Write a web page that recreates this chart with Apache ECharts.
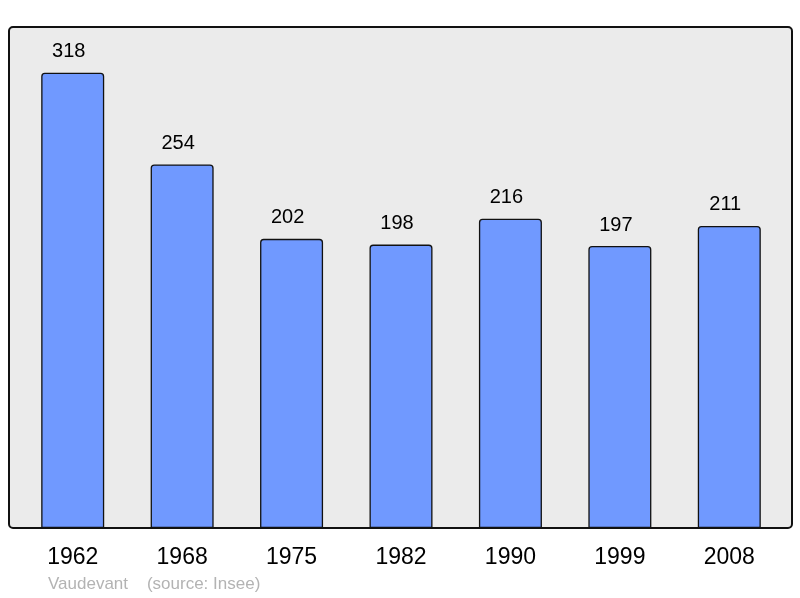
<!DOCTYPE html>
<html>
<head>
<meta charset="utf-8">
<script src="https://cdn.jsdelivr.net/npm/echarts@6/dist/echarts.min.js"></script>
<style>
  html, body { margin: 0; padding: 0; background: #fff; }
  #chart { width: 800px; height: 598px; }
</style>
</head>
<body>
<div id="chart"></div>
<script>
// Population by census year
const years = ['1962', '1968', '1975', '1982', '1990', '1999', '2008'];
const population = [318, 254, 202, 198, 216, 197, 211];

const chart = echarts.init(document.getElementById('chart'));

chart.setOption({
    animation: false,
    graphic: [
        {
            type: 'rect',
            z: -1,
            shape: { x: 9, y: 27, width: 783, height: 501, r: 4 },
            style: { fill: '#ebebeb', stroke: '#111', lineWidth: 2 }
        },
        {
            type: 'text',
            left: 48,
            top: 576,
            style: { text: 'Vaudevant    (source: Insee)', fill: '#b3b3b3', font: '17px "Liberation Sans", Arial, sans-serif' }
        }
    ],
    grid: { left: 18, right: 16, top: 27, bottom: 70 },
    xAxis: {
        type: 'category',
        data: years,
        axisLine: { show: false },
        axisTick: { show: false },
        axisLabel: { color: '#000', fontSize: 23, fontFamily: 'Liberation Sans', margin: 18 }
    },
    yAxis: {
        type: 'value',
        min: 0,
        max: 350,
        show: false,
        splitLine: { show: false }
    },
    series: [{
        type: 'bar',
        data: population,
        barWidth: 63,
        itemStyle: { color: '#7099ff', borderColor: '#111', borderWidth: 1.3, borderRadius: [3, 3, 0, 0] },
        label: {
            show: true,
            position: 'top',
            distance: 11,
            offset: [-4, 0],
            color: '#000',
            fontSize: 20,
            fontFamily: 'Liberation Sans'
        }
    }]
});
</script>
</body>
</html>
